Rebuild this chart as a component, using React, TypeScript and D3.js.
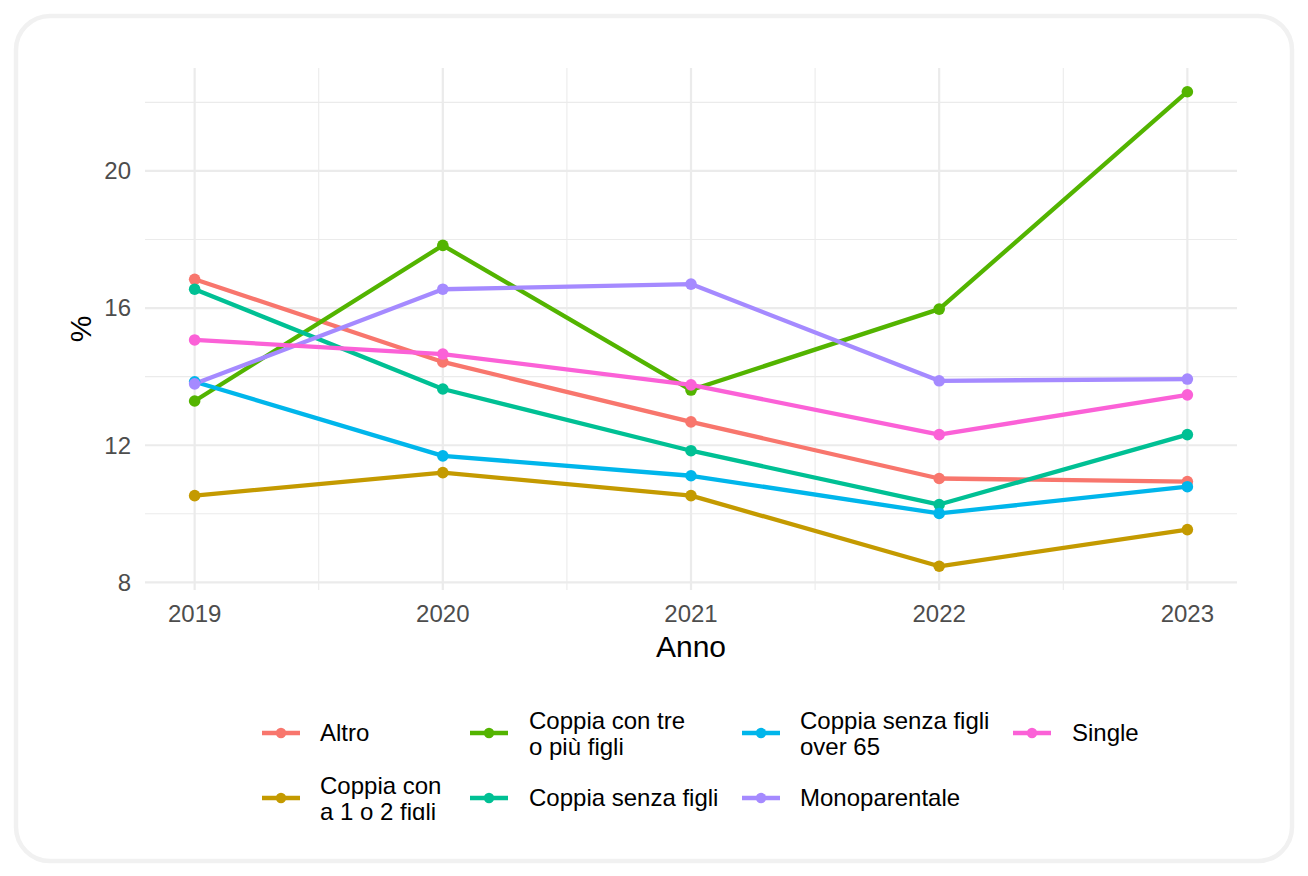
import React from 'react';
import * as d3 from 'd3';

const years = [2019, 2020, 2021, 2022, 2023];

const seriesNames = [
  'Altro',
  'Coppia con a 1 o 2 figli',
  'Coppia con tre o più figli',
  'Coppia senza figli',
  'Coppia senza figli over 65',
  'Monoparentale',
  'Single',
];

// righe dell'etichetta in legenda
const legendLabels = [
  ['Altro'],
  ['Coppia con', 'a 1 o 2 figli'],
  ['Coppia con tre', 'o più figli'],
  ['Coppia senza figli'],
  ['Coppia senza figli', 'over 65'],
  ['Monoparentale'],
  ['Single'],
];

const altro = [16.84, 14.43, 12.68, 11.03, 10.94];
const coppiaUnoDue = [10.53, 11.2, 10.53, 8.47, 9.54];
const coppiaTrePiu = [13.29, 17.83, 13.61, 15.97, 22.31];
const coppiaSenza = [16.55, 13.64, 11.84, 10.27, 12.31];
const coppiaOver65 = [13.85, 11.69, 11.11, 10.01, 10.79];
const monoparentale = [13.79, 16.55, 16.7, 13.88, 13.93];
const single = [15.07, 14.66, 13.76, 12.31, 13.47];

const seriesValues = [altro, coppiaUnoDue, coppiaTrePiu, coppiaSenza, coppiaOver65, monoparentale, single];

const yTicks = [8, 12, 16, 20];
const yMinor = [10, 14, 18, 22];

const palette = ['#F8766D', '#C49A00', '#53B400', '#00C094', '#00B6EB', '#A58AFF', '#FB61D7'];

const W = 1308;
const H = 876;
const panel = { left: 145, right: 1237, top: 68, bottom: 590 };
const FONT = '"Liberation Sans", Arial, Helvetica, sans-serif';

export default function App() {
  const allVals = seriesValues.flat();
  const yMin = d3.min(allVals) as number;
  const yMax = d3.max(allVals) as number;
  const yPad = (yMax - yMin) * 0.05;
  const xPad = (years[years.length - 1] - years[0]) * 0.05;

  const x = d3.scaleLinear()
    .domain([years[0] - xPad, years[years.length - 1] + xPad])
    .range([panel.left, panel.right]);
  const y = d3.scaleLinear()
    .domain([yMin - yPad, yMax + yPad])
    .range([panel.bottom, panel.top]);

  const xMinor = years.slice(0, -1).map(yr => yr + 0.5);

  const line = d3.line<number>()
    .x((_, i) => x(years[i]))
    .y(d => y(d));

  const grid = '#ebebeb';

  // legenda: colonne per 2 righe, ordine per colonna
  const legendCols = [
    { key: 262, text: 320 },
    { key: 470, text: 529 },
    { key: 742, text: 800 },
    { key: 1013, text: 1072 },
  ];
  const legendRows = [733, 798];

  return (
    <div style={{ position: 'absolute', left: 0, top: 0 }}>
      <svg width={W} height={H} style={{ display: 'block', fontFamily: FONT }}>
        <defs>
          <clipPath id="legend-clip">
            <rect x={0} y={0} width={W} height={820} />
          </clipPath>
        </defs>
        <rect x={0} y={0} width={W} height={H} fill="#ffffff" />
        <rect x={16} y={16} width={1276} height={845} rx={34} ry={34}
          fill="#ffffff" stroke="#f1f1f1" strokeWidth={4.5} />

        {/* griglia */}
        <g>
          {yMinor.map(v => (
            <line key={'ym' + v} x1={panel.left} x2={panel.right} y1={y(v)} y2={y(v)}
              stroke={grid} strokeWidth={1.1} />
          ))}
          {xMinor.map(v => (
            <line key={'xm' + v} x1={x(v)} x2={x(v)} y1={panel.top} y2={panel.bottom}
              stroke={grid} strokeWidth={1.1} />
          ))}
          {yTicks.map(v => (
            <line key={'y' + v} x1={panel.left} x2={panel.right} y1={y(v)} y2={y(v)}
              stroke={grid} strokeWidth={2.2} />
          ))}
          {years.map(v => (
            <line key={'x' + v} x1={x(v)} x2={x(v)} y1={panel.top} y2={panel.bottom}
              stroke={grid} strokeWidth={2.2} />
          ))}
        </g>

        {/* linee */}
        <g fill="none">
          {seriesValues.map((vals, i) => (
            <path key={seriesNames[i]} d={line(vals) || ''} stroke={palette[i]}
              strokeWidth={4.3} strokeLinejoin="round" />
          ))}
        </g>
        {/* punti */}
        <g>
          {seriesValues.map((vals, i) =>
            vals.map((v, j) => (
              <circle key={seriesNames[i] + j} cx={x(years[j])} cy={y(v)} r={5.8} fill={palette[i]} />
            ))
          )}
        </g>

        {/* assi */}
        <g fontSize={24} fill="#4d4d4d">
          {yTicks.map(v => (
            <text key={'yl' + v} x={panel.left - 14} y={y(v)} dy="0.35em" textAnchor="end">{v}</text>
          ))}
          {years.map(v => (
            <text key={'xl' + v} x={x(v)} y={622} textAnchor="middle">{v}</text>
          ))}
        </g>
        <text x={(panel.left + panel.right) / 2} y={657} textAnchor="middle" fontSize={30} fill="#000">Anno</text>
        <text transform={`translate(91, ${(panel.top + panel.bottom) / 2}) rotate(-90)`}
          textAnchor="middle" fontSize={30} fill="#000">%</text>

        {/* legenda */}
        <g clipPath="url(#legend-clip)">
          {seriesNames.map((name, i) => {
            const col = legendCols[Math.floor(i / 2)];
            const cy = legendRows[i % 2];
            const lines = legendLabels[i];
            return (
              <g key={'lg' + name}>
                <line x1={col.key} x2={col.key + 38} y1={cy} y2={cy} stroke={palette[i]} strokeWidth={4.5} />
                <circle cx={col.key + 19} cy={cy} r={5.2} fill={palette[i]} />
                {lines.length === 1 ? (
                  <text x={col.text} y={cy} dy="0.35em" fontSize={24} fill="#000">{lines[0]}</text>
                ) : (
                  <text x={col.text} y={cy - 4} fontSize={24} fill="#000">
                    <tspan x={col.text}>{lines[0]}</tspan>
                    <tspan x={col.text} dy={25.5}>{lines[1]}</tspan>
                  </text>
                )}
              </g>
            );
          })}
        </g>
      </svg>
    </div>
  );
}
